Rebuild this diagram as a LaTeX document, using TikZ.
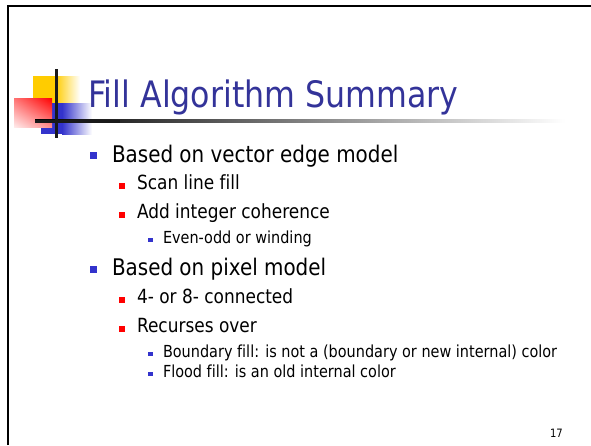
\documentclass[tikz,border=0pt]{standalone}
\usepackage{fontspec}
\usetikzlibrary{shadings}
\setmainfont{DejaVu Sans}[FakeStretch=0.87, Ligatures=NoCommon]
\definecolor{titleblue}{RGB}{51,51,153}
\definecolor{bulblue}{RGB}{51,51,204}
\definecolor{sqyellow}{RGB}{255,204,0}
\definecolor{sqblue}{RGB}{51,51,204}
\definecolor{sqred}{RGB}{255,0,0}
\tikzset{
  txt/.style={anchor=base west, inner sep=0pt, outer sep=0pt},
  lvlone/.style={txt, font=\fontsize{22.9}{27}\selectfont},
  lvltwo/.style={txt, font=\fontsize{19.5}{23}\selectfont},
  lvlthree/.style={txt, font=\fontsize{16.6}{20}\selectfont},
  titletxt/.style={txt, text=titleblue, font=\fontsize{36.4}{40}\selectfont},
  frameline/.style={line width=2.5pt, black},
}
\begin{document}
\begin{tikzpicture}[x=1pt,y=-1pt]
\useasboundingbox (0,0) rectangle (591,445);
% frame
\draw[frameline] (8,445) -- (8,6) -- (591,6);
% decoration squares
\fill[sqyellow] (33,76) rectangle (55,104);
\shade[left color=sqyellow, right color=white] (55,76) rectangle (80,104);
\fill[sqblue] (41,103) rectangle (62,134);
\shade[left color=sqblue, right color=white] (62,103) rectangle (92,134);
\shade[upper right=sqred, upper left=sqred!55, lower right=sqred!45, lower left=sqred!8] (14,98) rectangle (52,127);
% title rule
\shade[left color=black, right color=white] (35,119.5) rectangle (565,122.5);
\fill[black!90] (35,119.5) rectangle (120,122.5);
\draw[line width=3pt, black!90] (56.7,69) -- (56.7,138);
% title
\node[titletxt] (title) at (88,107) {Fill Algorithm Summary};
% level one
\fill[bulblue] (90,152) rectangle (97,159);
\node[lvlone] (b1) at (112,162) {Based on vector edge model};
\fill[sqred] (119,183) rectangle (125,189);
\node[lvltwo] (b11) at (137,189) {Scan line fill};
\fill[sqred] (119,212) rectangle (125,218);
\node[lvltwo] (b12) at (137,218) {Add integer coherence};
\fill[bulblue] (148,238) rectangle (153,242);
\node[lvlthree] (b121) at (163,243) {Even-odd or winding};
\fill[bulblue] (90,266) rectangle (97,273);
\node[lvlone] (b2) at (112,275) {Based on pixel model};
\fill[sqred] (119,297) rectangle (125,303);
\node[lvltwo] (b21) at (137,303) {4- or 8- connected};
\fill[sqred] (119,326) rectangle (125,332);
\node[lvltwo] (b22) at (137,332) {Recurses over};
\fill[bulblue] (148,352) rectangle (153,356);
\node[lvlthree] (b221) at (163,357) {Boundary fill: is not a (boundary or new internal) color};
\fill[bulblue] (148,372) rectangle (153,376);
\node[lvlthree] (b222) at (163,377) {Flood fill: is an old internal color};
% page number
\node[txt, font=\fontsize{11.5}{13}\selectfont] (pnum) at (550,437) {17};
\end{tikzpicture}
\end{document}
